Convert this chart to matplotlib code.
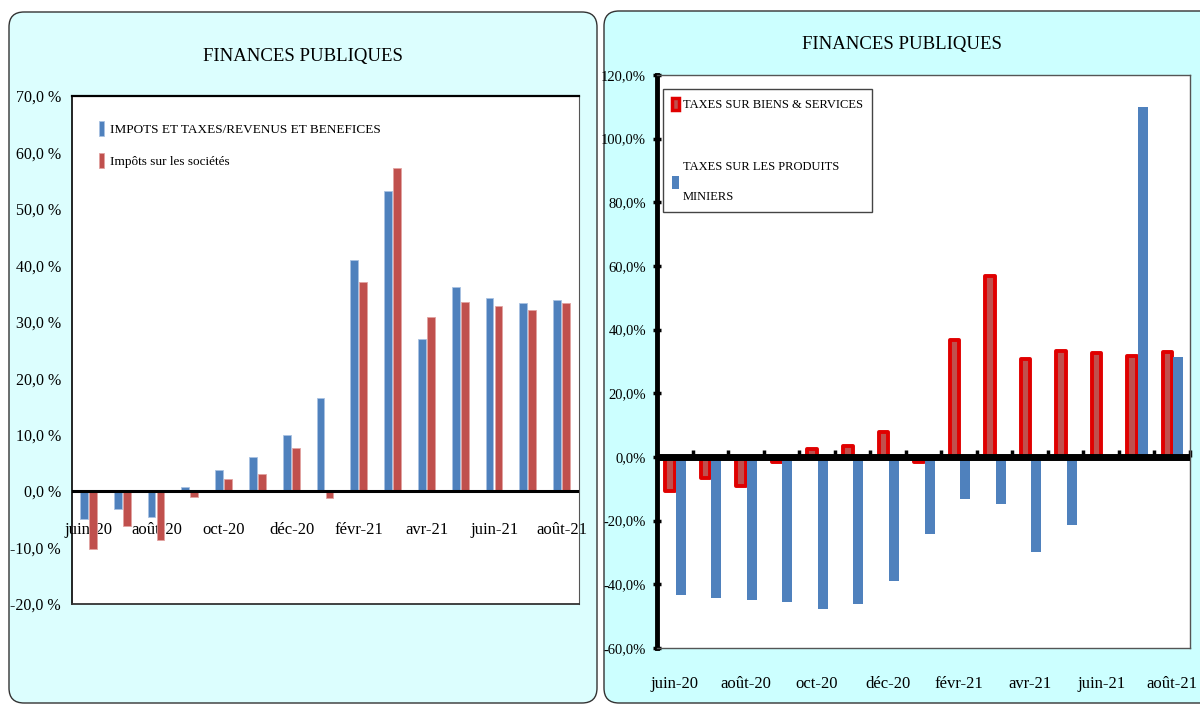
import numpy as np
import matplotlib.pyplot as plt
from matplotlib.patches import FancyBboxPatch, Patch
from matplotlib.ticker import FuncFormatter

plt.rcParams['font.family'] = ['Liberation Serif', 'DejaVu Serif']

# Données
mois = ['juin-20', 'juil-20', 'août-20', 'sept-20', 'oct-20', 'nov-20', 'déc-20',
        'janv-21', 'févr-21', 'mars-21', 'avr-21', 'mai-21', 'juin-21', 'juil-21', 'août-21']

# Graphique de gauche
impots_revenus = [-5.0, -3.1, -4.6, 0.7, 3.8, 6.1, 9.9, 16.5, 40.9, 53.1, 26.9, 36.2, 34.3, 33.4, 33.8]
impots_societes = [-10.2, -6.1, -8.6, -1.0, 2.2, 3.1, 7.7, -1.2, 37.0, 57.2, 30.8, 33.5, 32.8, 32.1, 33.4]

# Graphique de droite
biens_services = [-10.8, -6.6, -9.2, -1.6, 2.6, 3.5, 8.0, -1.6, 36.8, 57.0, 30.7, 33.3, 32.6, 31.7, 33.1]
produits_miniers = [-43.3, -44.2, -44.8, -45.4, -47.8, -46.1, -39.1, -24.3, -13.2, -14.8, -29.8, -21.5, 0.0, 109.8, 31.3]

BLEU = '#4f81bd'
ROUGE = '#c0504d'

W, H = 1200, 704
fig = plt.figure(figsize=(12, 7.04), dpi=100)


def cadre(x0, y0, x1, y1, couleur):
    # boite arrondie en pixels (origine en haut a gauche)
    b = FancyBboxPatch((x0 / W, 1 - y1 / H), (x1 - x0) / W, (y1 - y0) / H,
                       boxstyle='round,pad=0,rounding_size=0.0125', mutation_aspect=W / H,
                       transform=fig.transFigure, facecolor=couleur, edgecolor='#333333',
                       lw=1.0, zorder=-5)
    fig.patches.append(b)


cadre(9, 12, 597, 703, '#dcfefe')
cadre(604, 11, 1230, 703, '#ccffff')

x = np.arange(len(mois))

# ---- Panneau gauche ----
ax1 = fig.add_axes([72 / W, 1 - 604 / H, 507 / W, 508 / H])
ax1.bar(x - 0.15, impots_revenus, 0.23, color=BLEU, edgecolor='#a9c2e2', lw=0.6,
        label='IMPOTS ET TAXES/REVENUS ET BENEFICES', zorder=2)
ax1.bar(x + 0.12, impots_societes, 0.23, color=ROUGE, edgecolor='#e2a3a1', lw=0.6,
        label='Impôts sur les sociétés', zorder=2)
ax1.axhline(0, color='black', lw=2.2, zorder=3)
ax1.set_xlim(-0.5, len(mois) - 0.5)
ax1.set_ylim(-20, 70)
ax1.set_yticks(range(-20, 71, 10))
ax1.yaxis.set_major_formatter(FuncFormatter(lambda v, _: f'{v:.1f} %'.replace('.', ',')))
ax1.tick_params(axis='y', length=0, pad=8, labelsize=11.5)
ax1.set_xticks([])
ax1.spines['left'].set_color('black')
ax1.spines['left'].set_linewidth(1.2)
ax1.spines['top'].set_linewidth(1.6)
ax1.spines['right'].set_color('#555555')
ax1.spines['bottom'].set_color('#333333')
ax1.spines['bottom'].set_linewidth(1.3)

sec1 = ax1.secondary_xaxis(2 / 9)
sec1.set_xticks(x[::2], mois[::2])
sec1.tick_params(length=0, pad=22, labelsize=12)
for s in sec1.spines.values():
    s.set_visible(False)

ax1.legend(loc='upper left', bbox_to_anchor=(0.03, 0.975), frameon=False, fontsize=9.5,
           handlelength=0.4, handleheight=1.4, handletextpad=0.4, labelspacing=1.3)

fig.text(303 / W, 1 - 56 / H, 'FINANCES PUBLIQUES', ha='center', va='center', fontsize=13.5)

# ---- Panneau droit ----
ax2 = fig.add_axes([657 / W, 1 - 648 / H, 533 / W, 573 / H])
ax2.bar(x - 0.13, biens_services, 0.27, color=ROUGE, edgecolor='#e00000', lw=2.8,
        joinstyle='round', zorder=2)
ax2.bar(x + 0.17, produits_miniers, 0.28, color=BLEU, edgecolor='none', zorder=2.5)
ax2.axhline(0, color='black', lw=5, zorder=3)
ax2.set_xlim(-0.5, len(mois) - 0.5)
ax2.set_ylim(-60, 120)
ax2.set_yticks(range(-60, 121, 20))
ax2.yaxis.set_major_formatter(FuncFormatter(lambda v, _: f'{v:.1f}%'.replace('.', ',')))
ax2.tick_params(axis='y', direction='inout', length=6, width=2.5, color='black', pad=5,
                labelsize=10.5)
ax2.set_xticks(x[::2], mois[::2])
ax2.tick_params(axis='x', length=0, pad=20, labelsize=12)
ax2.spines['left'].set_color('black')
ax2.spines['left'].set_linewidth(3.5)
for s in ['top', 'right', 'bottom']:
    ax2.spines[s].set_color('#555555')
    ax2.spines[s].set_linewidth(1.0)

sec2 = ax2.secondary_xaxis(1 / 3)
sec2.set_xticks(np.arange(-0.5, len(mois), 1.0))
sec2.tick_params(direction='in', length=5, width=2.5, color='black', labelbottom=False)
for s in sec2.spines.values():
    s.set_visible(False)

poignees = [Patch(facecolor=ROUGE, edgecolor='#e00000', lw=2.5, joinstyle='round'),
            Patch(facecolor=BLEU, edgecolor='none')]
leg = ax2.legend(poignees, ['TAXES SUR BIENS & SERVICES', 'TAXES SUR LES PRODUITS\nMINIERS'],
                 loc='upper left', bbox_to_anchor=(0.011, 0.976), borderaxespad=0,
                 frameon=True, fancybox=False, edgecolor='#444444', framealpha=1,
                 fontsize=9, handlelength=0.6, handleheight=1.2, handletextpad=0.3,
                 labelspacing=4.0, borderpad=0.7)
for t in leg.get_texts():
    t.set_linespacing(3.0)

fig.text(902 / W, 1 - 45 / H, 'FINANCES PUBLIQUES', ha='center', va='center', fontsize=13.5)

fig.savefig('out.png', dpi=100)
